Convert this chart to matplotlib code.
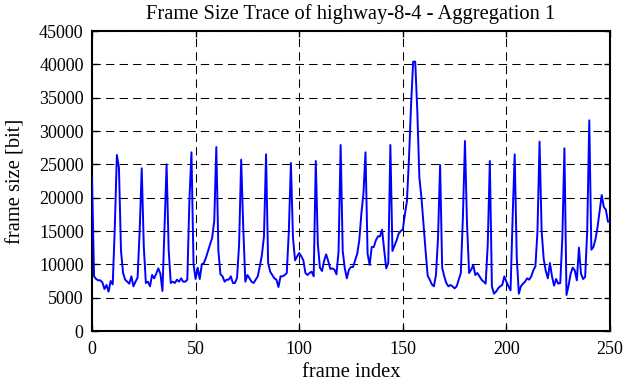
import matplotlib
matplotlib.use("Agg")
import matplotlib.pyplot as plt
import numpy as np

title = "Frame Size Trace of highway-8-4 - Aggregation 1"
x_label = "frame index"
y_label = "frame size [bit]"
x_ticks = [0, 50, 100, 150, 200, 250]
y_ticks = [0, 5000, 10000, 15000, 20000, 25000, 30000, 35000, 40000, 45000]

frame_size = [
    23000, 8200, 7800, 7600, 7600, 7300, 6300, 6900, 5900, 7500,
    7000, 15500, 26400, 24500, 12000, 8700, 7700, 7400, 7100, 8200,
    6700, 7400, 8000, 15000, 24400, 12600, 7200, 7400, 6700, 8400,
    7900, 8600, 9400, 8600, 6000, 15500, 25000, 12200, 7200, 7400,
    7200, 7700, 7400, 7900, 7400, 7400, 7700, 19500, 26800, 10000,
    7800, 9500, 7800, 10000, 10200, 11000, 12000, 13000, 14000, 16500,
    27600, 12000, 8500, 8200, 7400, 7700, 7700, 8200, 7200, 7200,
    8000, 13000, 25700, 15500, 7400, 8400, 7900, 7400, 7200, 7700,
    8200, 9700, 11400, 14200, 26500, 10200, 8900, 8400, 7900, 7700,
    6600, 8200, 8200, 8400, 8700, 15000, 25200, 14000, 10600, 11200,
    11700, 11200, 10600, 8700, 8400, 8700, 8900, 8200, 25500, 13000,
    9500, 9000, 10500, 11500, 10500, 9300, 9400, 9200, 8500, 12000,
    27900, 12000, 9400, 7900, 9200, 9600, 9600, 10600, 11600, 13600,
    17600, 20600, 26800, 11600, 9900, 12600, 12600, 13600, 14200, 14200,
    15200, 12200, 9400, 10200, 27900, 12000, 12800, 13600, 14600, 15000,
    15200, 17500, 19500, 26000, 34000, 40400, 40400, 33000, 23000, 20000,
    16000, 12000, 8300, 7700, 7000, 6700, 8400, 14000, 24900, 9500,
    8200, 7200, 6700, 6900, 6700, 6400, 6700, 7700, 8700, 17000,
    28500, 16000, 8700, 9200, 9900, 8400, 8700, 8200, 7700, 7400,
    7100, 13000, 25500, 6700, 5600, 5900, 6400, 6700, 6900, 8200,
    7400, 6700, 6100, 17000, 26500, 11000, 5600, 6700, 7100, 7400,
    7900, 7700, 8200, 9100, 9700, 15000, 28400, 15000, 10800, 9000,
    7900, 10200, 8200, 6800, 7800, 7100, 7200, 14000, 27400, 5400,
    6800, 8600, 9500, 9100, 7600, 12500, 8600, 7800, 8100, 15000,
    31600, 12200, 12600, 13800, 15600, 18000, 20400, 18600, 18200, 16400,
    16400,
]
frame_index = np.arange(len(frame_size))

plt.rcParams['font.family'] = ['Liberation Serif', 'DejaVu Serif']

fig = plt.figure(figsize=(6.26, 3.82), dpi=100)
ax = fig.add_axes([92/626, 1-331/382, (610-92)/626, 300/382])

ax.plot(frame_index, frame_size, color='#0000ff', lw=1.4, zorder=3)

ax.set_xlim(0, 250)
ax.set_ylim(0, 45000)
ax.set_xticks(x_ticks)
ax.set_yticks(y_ticks)
ax.tick_params(direction='in', length=4, width=1, top=True, right=True,
               labelsize=13, colors='black')
ax.tick_params(axis='x', pad=7)
ax.tick_params(axis='y', pad=6)
ax.grid(True, color='black', linestyle=(0, (8, 5)), lw=0.75)
for s in ax.spines.values():
    s.set_linewidth(1.5)

ax.set_title(title, fontsize=14.8, pad=9)
ax.set_xlabel(x_label, fontsize=14.8, labelpad=4)
ax.set_ylabel(y_label, fontsize=14.8, labelpad=10)

fig.savefig("out.png", dpi=100)
